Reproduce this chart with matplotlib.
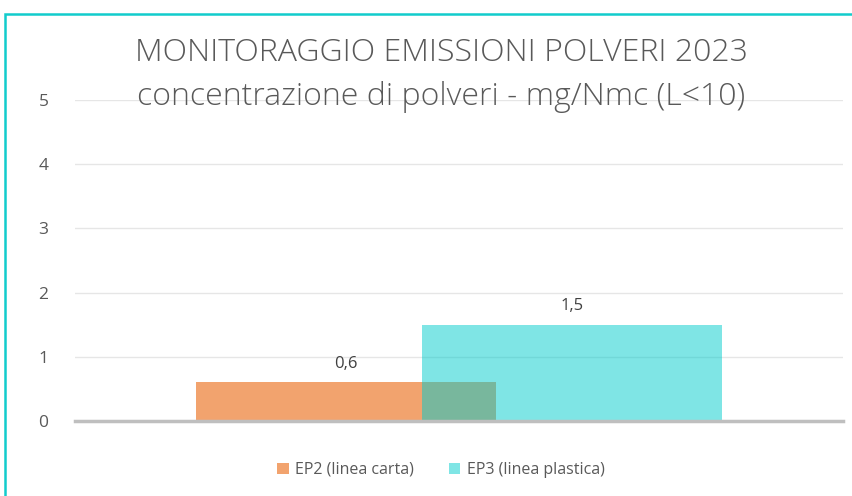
import matplotlib
matplotlib.use("Agg")
import matplotlib.pyplot as plt
from matplotlib.lines import Line2D

series = ["EP2 (linea carta)", "EP3 (linea plastica)"]
values = [0.6, 1.5]
labels = ["0,6", "1,5"]
colors = ["#ED7D31", "#00CCCC"]
alphas = [0.7, 0.5]
yticks = [0, 1, 2, 3, 4, 5]
title = "MONITORAGGIO EMISSIONI POLVERI 2023\nconcentrazione di polveri - mg/Nmc (L<10)"

W, H = 853, 496
fig = plt.figure(figsize=(W / 100, H / 100), dpi=100)
fig.patch.set_facecolor("white")

# outer border (top and left only, the chart frame is cut off right/bottom)
bx, by = 5.5 / W, 1 - 14 / H
fig.add_artist(Line2D([bx, bx, 1.01], [-0.01, by, by], transform=fig.transFigure,
                      color="#11CCCC", linewidth=1.8, solid_joinstyle="miter"))

ax = fig.add_axes([75 / W, 1 - 421 / H, (843 - 75) / W, (421 - 100) / H])
offsets = [-0.147, 0.147]
width = 0.39
for i, (v, lab, c, a) in enumerate(zip(values, labels, colors, alphas)):
    ax.bar(offsets[i], v, width=width, color=c, alpha=a, label=series[i], zorder=3 + i,
           linewidth=0)
    ax.text(offsets[i], v + 0.17, lab, ha="center", va="bottom", fontsize=12,
            color="#404040", family="Open Sans", zorder=6)

ax.set_xlim(-0.5, 0.5)
ax.set_ylim(0, 5)
ax.set_yticks(yticks)
ax.set_yticklabels([str(t) for t in yticks], fontsize=12.5, color="#595959", family="Open Sans")
ax.tick_params(axis="y", length=0, pad=19)
ax.set_xticks([])
ax.yaxis.grid(True, color="#E6E6E6", linewidth=1, zorder=0)
for s in ["top", "right", "left"]:
    ax.spines[s].set_visible(False)
ax.spines["bottom"].set_color("#BFBFBF")
ax.spines["bottom"].set_linewidth(2.5)
ax.spines["bottom"].set_zorder(7)

fig.text(441 / W, 1 - 75 / H, title, ha="center", va="center", fontsize=23,
         color="#595959", family="Open Sans", fontweight="light", linespacing=1.48)

leg = fig.legend(loc="center", bbox_to_anchor=(441 / W, 1 - 470 / H), ncol=2, frameon=False,
                 prop={"family": "Open Sans", "size": 11.5}, handlelength=0.7, handleheight=0.7,
                 columnspacing=2.2, handletextpad=0.4)
for t in leg.get_texts():
    t.set_color("#595959")

fig.savefig("out.png", dpi=100, facecolor="white")
